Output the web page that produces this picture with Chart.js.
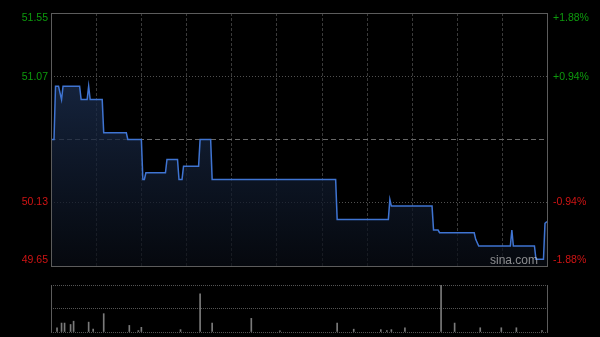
<!DOCTYPE html>
<html>
<head>
<meta charset="utf-8">
<script src="https://cdn.jsdelivr.net/npm/chart.js@4"></script>
<style>
  html, body { margin: 0; padding: 0; background: #000; }
  #wrap { position: relative; width: 600px; height: 337px; }
  canvas { position: absolute; left: 0; top: 0; }
</style>
</head>
<body>
<div id="wrap">
  <canvas id="precio" width="600" height="337"></canvas>
  <canvas id="volumen" width="600" height="337"></canvas>
</div>
<script>
// minutos desde la apertura (9:30), 330 minutos de sesion
const minutos = [0, 2, 3, 5, 7, 8, 19, 20, 24, 25, 26, 34, 35, 50, 51, 60, 61, 62, 63, 76, 77, 84, 85, 87, 88, 98, 99, 106, 107, 189, 190, 224, 225, 226, 253, 254, 257, 258, 281, 282, 284, 305, 306, 307, 321, 322, 327, 328, 329, 330];
const precios = [50.60, 50.60, 51.00, 51.00, 50.90, 51.00, 51.00, 50.90, 50.90, 51.00, 50.90, 50.90, 50.65, 50.65, 50.60, 50.60, 50.30, 50.30, 50.35, 50.35, 50.45, 50.45, 50.30, 50.30, 50.40, 50.40, 50.60, 50.60, 50.30, 50.30, 50.00, 50.00, 50.15, 50.10, 50.10, 49.92, 49.92, 49.90, 49.90, 49.85, 49.80, 49.80, 49.92, 49.80, 49.80, 49.70, 49.70, 49.97, 49.98, 49.98];

const volMinutos = [4, 7, 9, 13, 15, 25, 28, 35, 52, 58, 60, 86, 99, 107, 133, 152, 190, 201, 219, 223, 226, 235, 259, 268, 285, 299, 309, 326];
const volumenes = [9, 19, 19, 16, 23, 21, 6, 39, 14, 3, 10, 5, 81, 19, 29, 2.5, 19, 6, 5, 3, 5, 9, 100, 19, 9, 9, 9, 3];

const preciosEje = [49.65, 50.13, 50.60, 51.07, 51.55];
const etiquetasIzq = ['49.65', '50.13', '', '51.07', '51.55'];
const etiquetasDer = ['-1.88%', '-0.94%', '', '+0.94%', '+1.88%'];
const cierreAnterior = 50.60;

const verde = '#0d9a0d';
const rojo = '#d01414';
const marco = '#5c5c5c';
const fuente = '10.5px "Liberation Sans", Arial, sans-serif';

const etiquetas = {
    id: 'etiquetas',
    afterDraw(chart) {
        const { ctx, chartArea, scales: { y } } = chart;
        ctx.save();
        ctx.font = fuente;
        ctx.textBaseline = 'middle';
        preciosEje.forEach((v, i) => {
            if (!etiquetasIzq[i]) return;
            let py = y.getPixelForValue(v);
            py = Math.min(Math.max(py, chartArea.top + 5), chartArea.bottom - 6);
            ctx.fillStyle = v > cierreAnterior ? verde : rojo;
            ctx.textAlign = 'right';
            ctx.fillText(etiquetasIzq[i], chartArea.left - 3, py);
            ctx.textAlign = 'left';
            ctx.fillText(etiquetasDer[i], chartArea.right + 5, py);
        });
        ctx.strokeStyle = marco;
        ctx.lineWidth = 1;
        ctx.strokeRect(Math.round(chartArea.left) + 0.5, Math.round(chartArea.top) + 0.5,
            Math.round(chartArea.width) - 1, Math.round(chartArea.height));
        ctx.fillStyle = 'rgba(210,210,210,0.65)';
        ctx.font = '12px "Liberation Sans", Arial, sans-serif';
        ctx.textAlign = 'right';
        ctx.fillText('sina.com', chartArea.right - 10, chartArea.bottom - 5);
        ctx.restore();
    }
};

new Chart(document.getElementById('precio'), {
    type: 'line',
    data: {
        datasets: [{
            data: minutos.map((m, i) => ({ x: m, y: precios[i] })),
            borderColor: '#3f74d2',
            borderWidth: 1.5,
            pointRadius: 0,
            tension: 0,
            fill: 'start',
            backgroundColor: (c) => {
                const area = c.chart.chartArea;
                if (!area) return 'rgba(20,32,55,0.6)';
                const g = c.chart.ctx.createLinearGradient(0, area.top, 0, area.bottom);
                g.addColorStop(0, 'rgba(34,58,100,0.8)');
                g.addColorStop(1, 'rgba(8,12,20,0.7)');
                return g;
            }
        }]
    },
    options: {
        responsive: false,
        animation: false,
        layout: { autoPadding: false, padding: { left: 51, right: 52, top: 13, bottom: 71 } },
        plugins: { legend: { display: false }, tooltip: { enabled: false } },
        scales: {
            x: {
                type: 'linear', min: 0, max: 330,
                ticks: { display: false, stepSize: 30 },
                grid: {
                    drawTicks: false,
                    color: (c) => (c.tick && (c.tick.value === 0 || c.tick.value === 330)) ? 'rgba(0,0,0,0)' : '#3a3a3a'
                },
                border: { display: false, dash: [3, 2] }
            },
            y: {
                min: 49.65, max: 51.55,
                afterBuildTicks: (s) => { s.ticks = preciosEje.map(v => ({ value: v })); },
                ticks: { display: false },
                grid: {
                    drawTicks: false,
                    color: (c) => {
                        if (!c.tick) return '#505050';
                        if (c.tick.value === 49.65 || c.tick.value === 51.55) return 'rgba(0,0,0,0)';
                        return c.tick.value === cierreAnterior ? '#686868' : '#505050';
                    }
                },
                border: {
                    display: false,
                    dash: (c) => (c.tick && c.tick.value === cierreAnterior) ? [5, 3] : [1, 2]
                }
            }
        }
    },
    plugins: [etiquetas]
});

const marcoVol = {
    id: 'marcoVol',
    afterDraw(chart) {
        const { ctx, chartArea } = chart;
        ctx.save();
        ctx.strokeStyle = marco;
        ctx.lineWidth = 1;
        ctx.beginPath();
        ctx.moveTo(Math.round(chartArea.left) + 0.5, chartArea.top);
        ctx.lineTo(Math.round(chartArea.left) + 0.5, chartArea.bottom);
        ctx.moveTo(Math.round(chartArea.right) - 0.5, chartArea.top);
        ctx.lineTo(Math.round(chartArea.right) - 0.5, chartArea.bottom);
        ctx.stroke();
        ctx.restore();
    }
};

new Chart(document.getElementById('volumen'), {
    type: 'bar',
    data: {
        datasets: [{
            data: volMinutos.map((m, i) => ({ x: m, y: volumenes[i] })),
            backgroundColor: '#7a7a7a',
            barThickness: 1,
            borderWidth: 0
        }]
    },
    options: {
        responsive: false,
        animation: false,
        layout: { autoPadding: false, padding: { left: 51, right: 52, top: 285, bottom: 5 } },
        plugins: { legend: { display: false }, tooltip: { enabled: false } },
        scales: {
            x: {
                type: 'linear', min: 0, max: 330, offset: false,
                ticks: { display: false },
                grid: { display: false, drawTicks: false },
                border: { display: false }
            },
            y: {
                min: 0, max: 100,
                ticks: { display: false, stepSize: 50 },
                grid: { drawTicks: false, color: '#555555' },
                border: { display: false, dash: [1, 1] }
            }
        }
    },
    plugins: [marcoVol]
});
</script>
</body>
</html>
